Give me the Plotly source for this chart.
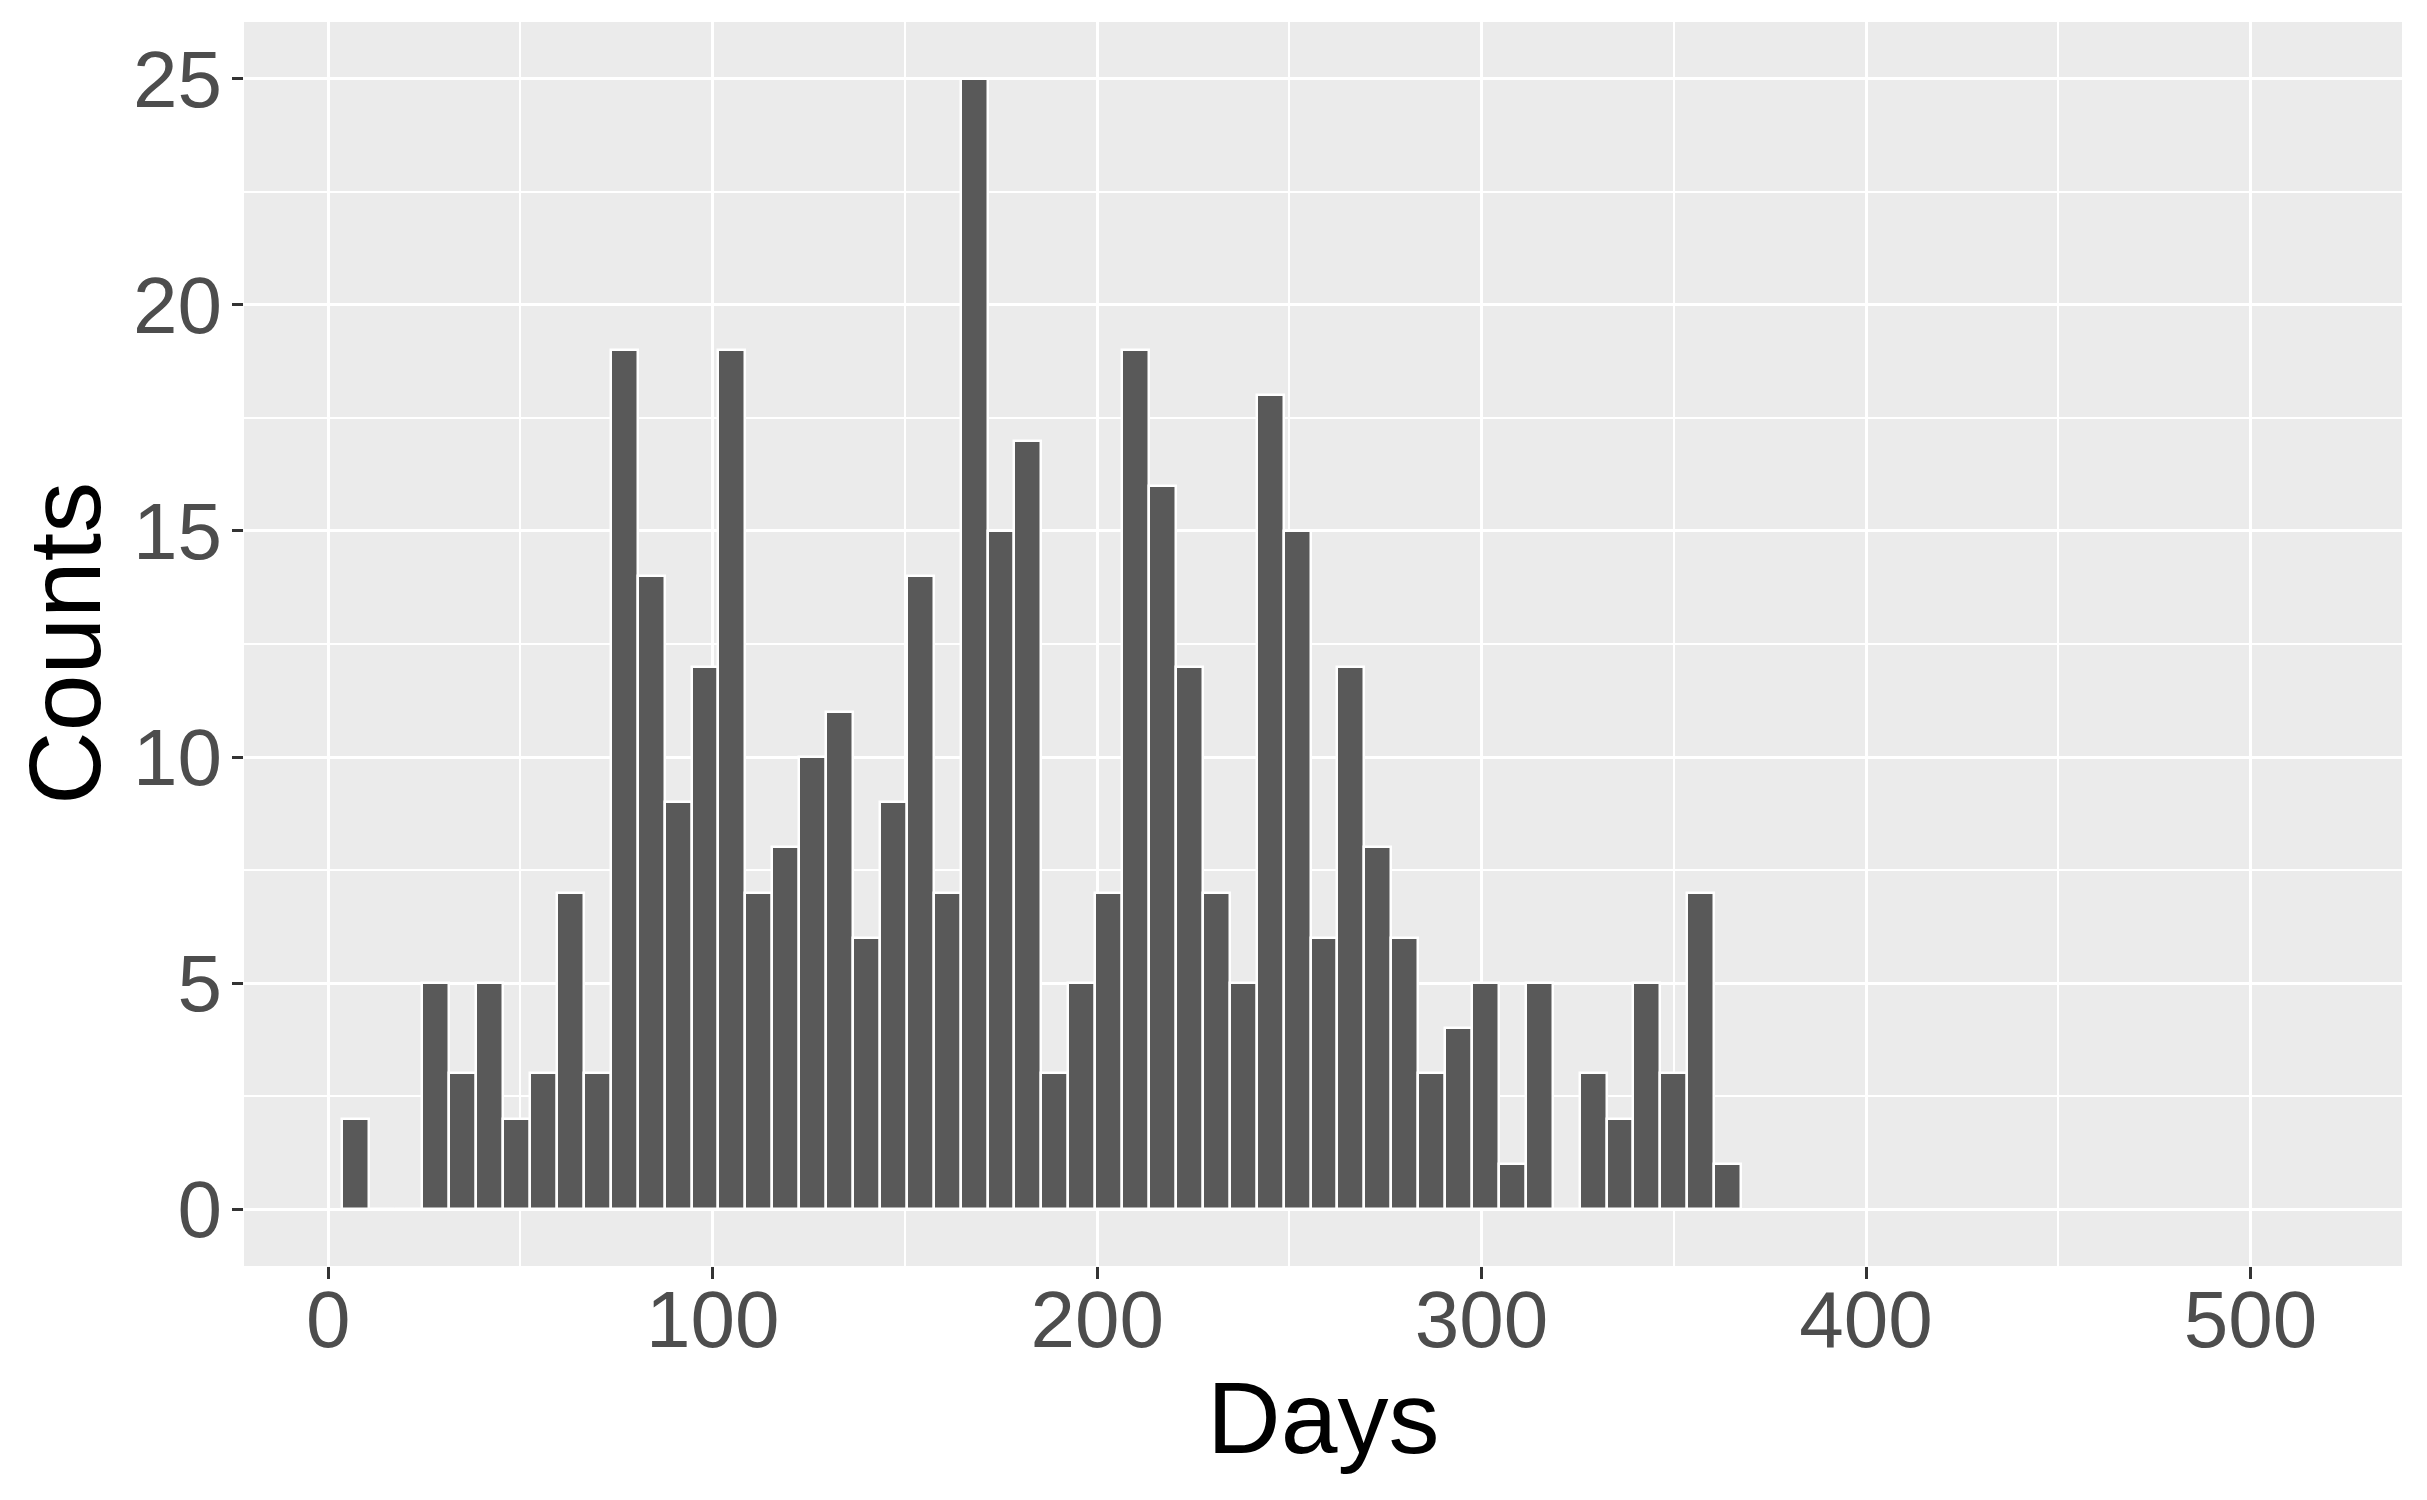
import plotly.graph_objects as go

# histogram bins (7-day wide), centre of each bin in days
days = [7 * k for k in range(1, 53)]
counts = [2, 0, 0, 5, 3, 5, 2, 3, 7, 3,
          19, 14, 9, 12, 19, 7, 8, 10, 11, 6,
          9, 14, 7, 25, 15, 17, 3, 5, 7, 19,
          16, 12, 7, 5, 18, 15, 6, 12, 8, 6,
          3, 4, 5, 1, 5, 0, 3, 2, 5, 3,
          7, 1]
x_ticks = [0, 100, 200, 300, 400, 500]
y_ticks = [0, 5, 10, 15, 20, 25]

fig = go.Figure()
fig.add_trace(go.Bar(
    x=days,
    y=counts,
    width=7,
    marker=dict(color='#595959', line=dict(color='white', width=2.5)),
    showlegend=False
))

tick_font = dict(family='Liberation Sans, Arial', size=80, color='#4D4D4D')
title_font = dict(family='Liberation Sans, Arial', size=102, color='black')

# page body has an 8px margin, so the figure is a bit smaller than the window
fig.update_layout(
    width=2419, height=1492,
    margin=dict(l=236, r=25, t=14, b=234),
    paper_bgcolor='white',
    plot_bgcolor='#EBEBEB',
    bargap=0,
    xaxis=dict(
        range=[-21.9, 539.4],
        tickvals=x_ticks,
        ticks='outside', ticklen=12, tickwidth=3, tickcolor='#333333',
        tickfont=tick_font, ticklabelstandoff=-28,
        showgrid=True, gridcolor='white', gridwidth=3.2,
        minor=dict(tickvals=[50, 150, 250, 350, 450], showgrid=True,
                   gridcolor='white', gridwidth=1.6, ticks=''),
        zeroline=False, showline=False, automargin=False,
    ),
    yaxis=dict(
        range=[-1.26, 26.26],
        tickvals=y_ticks,
        ticks='outside', ticklen=11, tickwidth=3, tickcolor='#333333',
        tickfont=tick_font, ticklabelstandoff=-6,
        showgrid=True, gridcolor='white', gridwidth=3.2,
        minor=dict(tickvals=[2.5, 7.5, 12.5, 17.5, 22.5], showgrid=True,
                   gridcolor='white', gridwidth=1.6, ticks=''),
        zeroline=False, showline=False, automargin=False,
    ),
)

# axis titles placed like ggplot's
fig.add_annotation(text='Days', font=title_font, showarrow=False,
                   xref='paper', yref='paper', x=0.5, y=0,
                   xanchor='center', yanchor='middle', yshift=-152)
fig.add_annotation(text='Counts', font=title_font, showarrow=False,
                   textangle=-90, xref='paper', yref='paper', x=0, y=0.5,
                   xanchor='center', yanchor='middle', xshift=-179)

fig.write_html("out.html")
